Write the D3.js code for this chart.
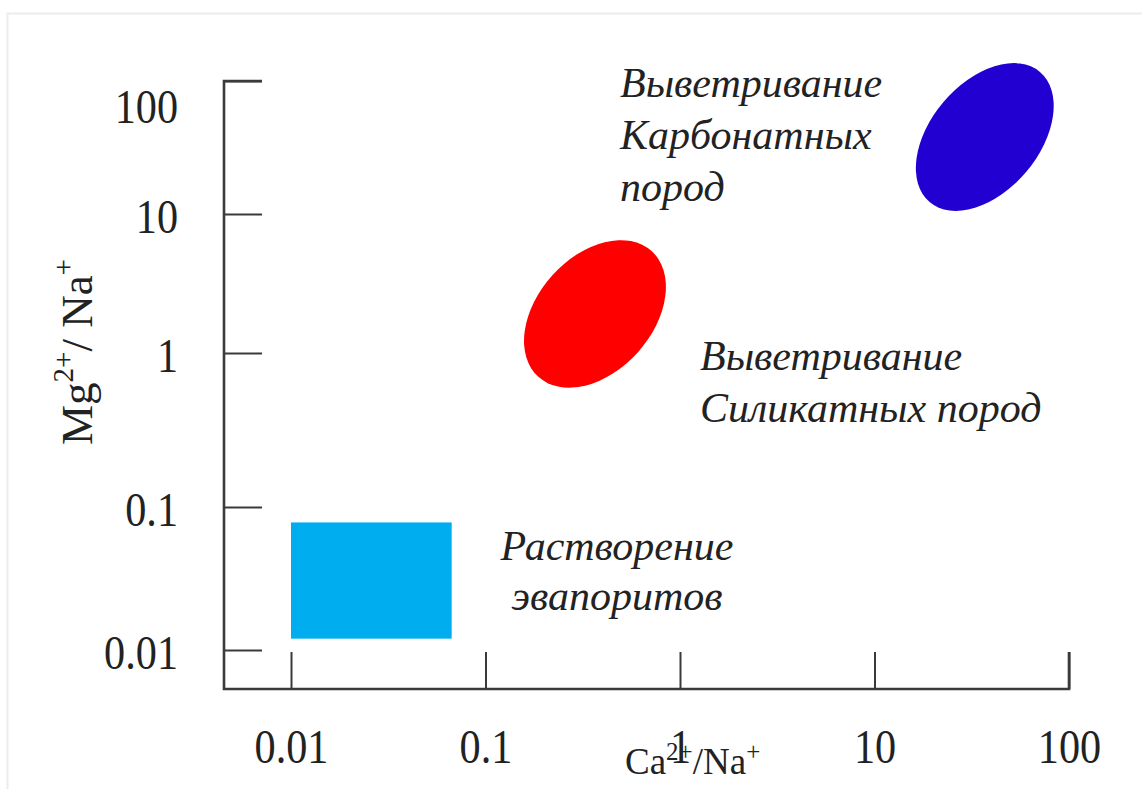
<!DOCTYPE html>
<html>
<head>
<meta charset="utf-8">
<script src="https://cdn.jsdelivr.net/npm/d3@7"></script>
<style>
  body { margin: 0; background: #fff; }
  svg { display: block; }
</style>
</head>
<body>
<svg id="chart" width="1142" height="789"></svg>
<script>
// Axis ticks (log decades) and their printed labels
const xTicks = [0.01, 0.1, 1, 10, 100];
const xTickLabels = ["0.01", "0.1", "1", "10", "100"];
const yTicks = [0.01, 0.1, 1, 10, 100];
const yTickLabels = ["0.01", "0.1", "1", "10", "100"];

// Evaporite dissolution field: Ca/Na range and Mg/Na range
const evaporiteCa = [0.01, 0.067];
const evaporiteMg = [0.012, 0.078];

// Silicate weathering field: ends of the long axis as [Ca/Na, Mg/Na], plus width/length ratio
const silicateEnds = [[0.187, 0.70], [0.714, 5.42]];
const silicateRatio = 0.68;

// Carbonate weathering field: ends of the long axis as [Ca/Na, Mg/Na], plus width/length ratio
const carbonateEnds = [[19.2, 12.3], [70.9, 117]];
const carbonateRatio = 0.635;

// Field captions
const carbonateLines = ["Выветривание", "Карбонатных", "пород"];
const silicateLines = ["Выветривание", "Силикатных пород"];
const evaporiteLines = ["Растворение", "эвапоритов"];

const svg = d3.select("#chart");
const serif = "'Liberation Serif', 'Times New Roman', serif";
const ink = "#222";
const axisInk = "#3a3a3a";

// faint frame around the figure
svg.append("rect")
  .attr("x", 7.5).attr("y", 13.5)
  .attr("width", 1200).attr("height", 900)
  .attr("fill", "none").attr("stroke", "#ececec").attr("stroke-width", 2);

const x = d3.scaleLog().domain([0.01, 100]).range([291, 1069]);
const y = d3.scaleLog().domain(yTicks).range([650, 507, 353, 214, 81]);

const axisX0 = 224;   // position of the vertical axis line
const axisY0 = 689;   // position of the horizontal axis line

// ---- fields ----
svg.append("rect")
  .attr("x", x(evaporiteCa[0]))
  .attr("y", y(evaporiteMg[1]))
  .attr("width", x(evaporiteCa[1]) - x(evaporiteCa[0]))
  .attr("height", y(evaporiteMg[0]) - y(evaporiteMg[1]))
  .attr("fill", "#00aeef");

function drawField(ends, ratio, color) {
  const p1 = [x(ends[0][0]), y(ends[0][1])];
  const p2 = [x(ends[1][0]), y(ends[1][1])];
  const cx = (p1[0] + p2[0]) / 2, cy = (p1[1] + p2[1]) / 2;
  const rx = Math.hypot(p2[0] - p1[0], p2[1] - p1[1]) / 2;
  const ang = Math.atan2(p2[1] - p1[1], p2[0] - p1[0]) * 180 / Math.PI;
  svg.append("ellipse")
    .attr("transform", `translate(${cx},${cy}) rotate(${ang})`)
    .attr("rx", rx).attr("ry", rx * ratio)
    .attr("fill", color);
}
drawField(silicateEnds, silicateRatio, "#ff0000");
drawField(carbonateEnds, carbonateRatio, "#2300d2");

// ---- axes ----
const gy = svg.append("g")
  .attr("transform", `translate(${axisX0},0)`)
  .call(d3.axisLeft(y).tickValues(yTicks).tickSize(-38).tickSizeOuter(0)
    .tickPadding(46).tickFormat((d, i) => yTickLabels[i]));
gy.select(".domain").remove();
gy.selectAll(".tick line").attr("stroke", axisInk).attr("stroke-width", 2);
gy.selectAll(".tick text")
  .attr("font-family", serif).attr("font-size", 44).attr("fill", ink)
  .attr("x", 0).attr("y", 0)
  .attr("dy", (d) => d === 100 ? "0.85em" : "0.38em")
  .attr("transform", "translate(-46,0) scale(0.96,1.1)");

const gx = svg.append("g")
  .attr("transform", `translate(0,${axisY0})`)
  .call(d3.axisBottom(x).tickValues(xTicks).tickSize(-37).tickSizeOuter(0)
    .tickFormat((d, i) => xTickLabels[i]));
gx.select(".domain").remove();
gx.selectAll(".tick line").attr("stroke", axisInk).attr("stroke-width", 2);
gx.selectAll(".tick text")
  .attr("font-family", serif).attr("font-size", 44).attr("fill", ink)
  .attr("y", 0).attr("dy", 0)
  .attr("transform", "translate(0,74) scale(0.96,1.1)");

// axis lines meeting at the lower-left corner
svg.append("path")
  .attr("d", `M${axisX0 + 38},${y(100)}H${axisX0}V${axisY0}H${x(100)}V${axisY0 - 37}`)
  .attr("fill", "none").attr("stroke", axisInk).attr("stroke-width", 2.6);

// ---- axis titles ----
const yTitle = svg.append("text")
  .attr("transform", "translate(92,352) rotate(-90)")
  .attr("text-anchor", "middle")
  .attr("font-family", serif).attr("font-size", 45).attr("fill", ink);
yTitle.append("tspan").text("Mg");
yTitle.append("tspan").attr("font-size", 29).attr("dy", -19).text("2+");
yTitle.append("tspan").attr("dy", 19).text("/ Na");
yTitle.append("tspan").attr("font-size", 29).attr("dy", -19).text("+");

const xTitle = svg.append("text")
  .attr("x", 625).attr("y", 774)
  .attr("font-family", serif).attr("font-size", 37).attr("fill", ink);
xTitle.append("tspan").text("Ca");
xTitle.append("tspan").attr("font-size", 25).attr("dy", -14).text("2+");
xTitle.append("tspan").attr("dy", 14).text("/Na");
xTitle.append("tspan").attr("font-size", 25).attr("dy", -14).text("+");

// ---- field captions ----
function caption(lines, px, py, anchor, step) {
  const t = svg.append("text")
    .attr("font-family", serif).attr("font-style", "italic")
    .attr("font-size", 42).attr("fill", ink)
    .attr("text-anchor", anchor);
  lines.forEach((s, i) => {
    t.append("tspan").attr("x", px).attr("y", py + i * step).text(s);
  });
}
caption(carbonateLines, 620, 97, "start", 52);
caption(silicateLines, 700, 370, "start", 52);
caption(evaporiteLines, 617, 560, "middle", 50);
</script>
</body>
</html>
